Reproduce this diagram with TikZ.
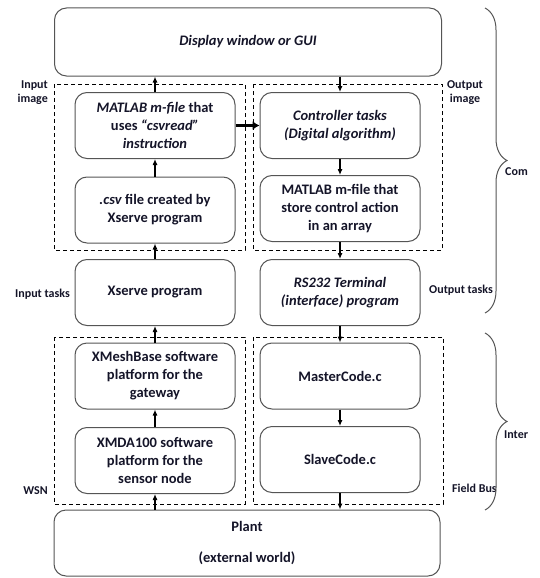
\documentclass[tikz,border=0pt]{standalone}
\usepackage{fontspec}
\setmainfont{Carlito}
\usetikzlibrary{arrows.meta, positioning, decorations.pathreplacing}
\definecolor{cLine}{RGB}{85,85,85}
\definecolor{cText}{RGB}{20,20,40}
\tikzset{
	block/.style={rectangle, rounded corners=12pt, minimum width=160pt, minimum height=66pt, align=center, draw=cLine, line width=1pt, text=cText, font=\fontsize{14.5}{18}\selectfont\bfseries},
	wideblock/.style={block, minimum width=387pt, minimum height=68pt},
	frame/.style={draw=black, line width=0.9pt, dash pattern=on 4pt off 3pt},
	flowarrow/.style={-{Latex[length=6pt,width=5pt]}, line width=1.1pt, black},
	bigarrow/.style={-{Latex[length=7pt,width=9pt]}, line width=3pt, black},
	% side labels and braces
	tag/.style={font=\fontsize{12}{14}\selectfont\bfseries, text=cText, inner sep=1pt},
	grp/.style={decorate, decoration={brace, amplitude=22pt}, line width=1pt, draw=cLine},
}

\begin{document}
\begin{tikzpicture}[x=1pt, y=-1pt]
	\useasboundingbox (0,0) rectangle (539,578);
	\node[wideblock] (gui) at (248,42) {\textit{Display window or GUI}};
	\node[wideblock, minimum width=386pt, minimum height=66pt] (plant) at (247,543) {Plant\\[13pt](external world)};
	% left column
	\node[block] (matlab) at (155,125.5) {\textit{MATLAB m-file} that\\uses \textit{“csvread”}\\\textit{instruction}};
	\node[block] (csv) at (155,210) {\textit{.csv} file created by\\Xserve program};
	\node[block] (xserve) at (155,292.5) {Xserve program};
	\node[block] (xmesh) at (155,376) {XMeshBase software\\platform for the\\gateway};
	\node[block] (xmda) at (155,460.5) {XMDA100 software\\platform for the\\sensor node};
	% right column
	\node[block] (ctrl) at (340,125.5) {\textit{Controller tasks}\\\textit{(Digital algorithm)}};
	\node[block] (store) at (340,208.5) {MATLAB m-file that\\store control action\\in an array};
	\node[block] (rs) at (340,292.5) {\textit{RS232 Terminal}\\\textit{(interface) program}};
	\node[block] (master) at (340,376) {MasterCode.c};
	\node[block] (slave) at (340,459.5) {SlaveCode.c};
	% dashed groups
	\draw[frame] (54,84) rectangle (245,250);
	\draw[frame] (253,84) rectangle (442,250);
	\draw[frame] (54,337) rectangle (245,504);
	\draw[frame] (253,337) rectangle (443,504);
	% connectors
	\foreach \a/\b in {xmda/xmesh, xmesh/xserve, xserve/csv, csv/matlab, ctrl/store, store/rs, rs/master, master/slave} {
		\draw[flowarrow] (\a) -- (\b);
	}
	\draw[flowarrow] (matlab.north) -- (matlab.north |- gui.south);
	\draw[flowarrow] (gui.south -| ctrl.north) -- (ctrl.north);
	\draw[flowarrow] (slave.south) -- (slave.south |- plant.north);
	\draw[flowarrow] (plant.north -| xmda.south) -- (xmda.south);
	\draw[bigarrow] (matlab.east) -- (ctrl.west);
	% labels
	\node[tag, align=right, anchor=east] (inimg) at (49,93) {Input\\image};
	\node[tag, align=center] (outimg) at (465,93) {Output\\image};
	\node[tag, anchor=east] (intasks) at (71,294) {Input tasks};
	\node[tag, anchor=west] (outtasks) at (428,290) {Output tasks};
	\node[tag, anchor=east] (wsn) at (49,491) {WSN};
	\node[tag, anchor=west] (fbus) at (451,488) {Field Bus};
	\draw[grp] (485,8) -- (485,313);
	\draw[grp] (485,333) -- (485,510);
	\node[tag, anchor=west] (com) at (504,172) {Com};
	\node[tag, anchor=west] (inter) at (503,435) {Inter};
\end{tikzpicture}
\end{document}
